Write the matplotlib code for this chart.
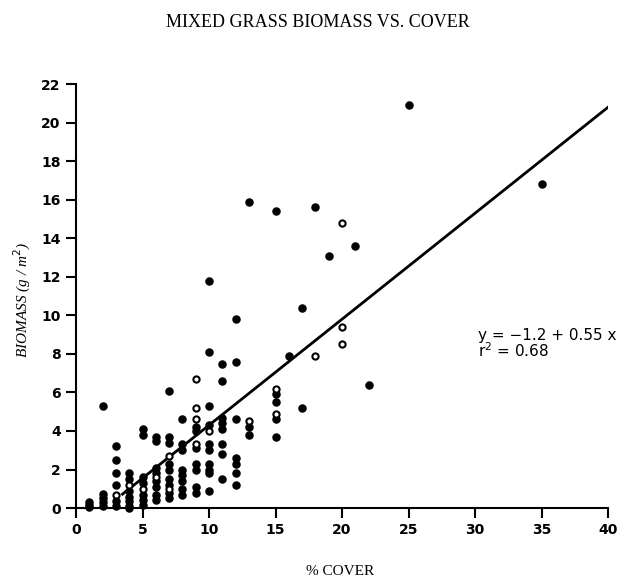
#!/usr/bin/env python3
"""Mixed grass biomass vs. percent cover, with fitted regression line."""
import numpy as np
import matplotlib.pyplot as plt

# filled symbols
solid_x = [1, 1, 1,
           2, 2, 2, 2, 2,
           3, 3, 3, 3, 3, 3,
           4, 4, 4, 4, 4, 4, 4,
           5, 5, 5, 5, 5, 5, 5,
           6, 6, 6, 6, 6, 6, 6, 6,
           7, 7, 7, 7, 7, 7, 7, 7, 7,
           8, 8, 8, 8, 8, 8, 8, 8,
           9, 9, 9, 9, 9, 9, 9,
           10, 10, 10, 10, 10, 10, 10, 10, 10, 10,
           11, 11, 11, 11, 11, 11, 11, 11,
           12, 12, 12, 12, 12, 12, 12,
           13, 13, 13,
           15, 15, 15, 15, 15,
           16, 17, 17, 18, 19, 21, 22, 25, 35]
solid_y = [0.3, 0.15, 0.05,
           5.3, 0.75, 0.5, 0.3, 0.1,
           3.2, 2.5, 1.8, 1.2, 0.35, 0.1,
           1.8, 1.5, 0.9, 0.6, 0.35, 0.1, 0.0,
           4.1, 3.8, 1.6, 1.3, 0.7, 0.4, 0.15,
           3.7, 3.5, 2.1, 1.8, 1.4, 1.1, 0.7, 0.4,
           6.1, 3.7, 3.4, 2.3, 2.0, 1.5, 1.2, 0.8, 0.5,
           4.6, 3.3, 3.0, 2.0, 1.7, 1.4, 1.0, 0.7,
           4.2, 4.0, 3.1, 2.3, 2.0, 1.1, 0.8,
           11.8, 8.1, 5.3, 4.3, 3.3, 3.0, 2.3, 2.0, 1.8, 0.9,
           7.5, 6.6, 4.7, 4.4, 4.1, 3.35, 2.8, 1.5,
           9.8, 7.6, 4.6, 2.6, 2.3, 1.8, 1.2,
           15.9, 4.2, 3.8,
           15.4, 5.9, 5.5, 4.6, 3.7,
           7.9, 10.4, 5.2, 15.6, 13.1, 13.6, 6.4, 20.9, 16.8]

# open symbols
open_x = [3, 4, 5, 6, 7, 7, 9, 9, 9, 9, 10, 13, 15, 15, 18, 20, 20, 20]
open_y = [0.7, 1.2, 1.0, 1.6, 2.7, 1.0, 6.7, 5.2, 4.6, 3.35, 4.0, 4.5,
          6.2, 4.9, 7.9, 14.8, 9.4, 8.5]

# regression y = -1.2 + 0.55 x
intercept = -1.2
slope = 0.55
fit_x = np.array([3.5, 40])

plt.rcParams['font.family'] = ['Liberation Serif', 'DejaVu Serif']

fig = plt.figure(figsize=(6.36, 5.8), dpi=100)
ax = fig.add_axes([0.1195, 0.124, 0.8365, 0.731])

ax.plot(fit_x, intercept + slope * fit_x, color='black', lw=2.0)
ax.scatter(solid_x, solid_y, s=26, color='black', zorder=3, clip_on=False)
ax.scatter(open_x, open_y, s=20, facecolor='white', edgecolor='black',
           linewidth=1.5, zorder=4, clip_on=False)

ax.set_xlim(0, 40)
ax.set_ylim(0, 22)
ax.set_xticks(range(0, 41, 5))
ax.set_yticks(range(0, 23, 2))
for side in ('top', 'right'):
    ax.spines[side].set_visible(False)
for side in ('left', 'bottom'):
    ax.spines[side].set_linewidth(1.5)
ax.tick_params(direction='out', length=7, width=1.5, labelsize=10, pad=4)
for lbl in ax.get_xticklabels() + ax.get_yticklabels():
    lbl.set_fontweight('bold')
    lbl.set_family(['DejaVu Sans'])

ax.text(30.2, 8.5, 'y = \u22121.2 + 0.55 x\nr$^2$ = 0.68', fontsize=11,
        linespacing=0.9, va='center', ha='left', family=['DejaVu Sans'])

fig.text(0.535, 0.014, '% COVER', ha='center', va='center', fontsize=11)
fig.text(0.035, 0.483, 'BIOMASS (g / m$^2$)', ha='center', va='center',
         rotation=90, fontsize=11, style='italic')
fig.text(0.5, 0.962, 'MIXED GRASS BIOMASS VS. COVER', ha='center', va='center',
         fontsize=13)

fig.savefig('out.png', dpi=100)
